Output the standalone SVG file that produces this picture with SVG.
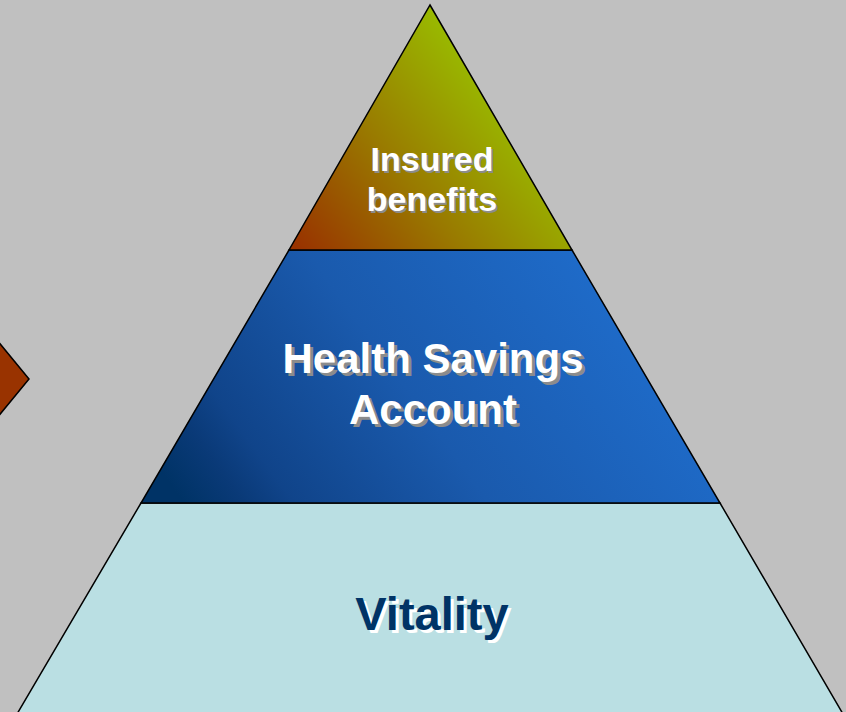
<svg xmlns="http://www.w3.org/2000/svg" width="846" height="712" viewBox="0 0 846 712">
  <defs>
    <linearGradient id="gTop" gradientUnits="userSpaceOnUse" x1="300" y1="250" x2="500" y2="90">
      <stop offset="0" stop-color="#993300"/>
      <stop offset="0.5" stop-color="#997a00"/>
      <stop offset="1" stop-color="#99bb00"/>
    </linearGradient>
    <linearGradient id="gMid" gradientUnits="userSpaceOnUse" x1="600" y1="235" x2="200" y2="525">
      <stop offset="0" stop-color="#1f6dcc"/>
      <stop offset="0.5" stop-color="#1a5aad"/>
      <stop offset="0.82" stop-color="#10448a"/>
      <stop offset="0.9" stop-color="#0a3a78"/>
      <stop offset="1" stop-color="#003366"/>
    </linearGradient>
    <style>
      .shape { stroke: #000; stroke-width: 1.5; stroke-linejoin: miter; }
      .lbl { font-family: "Liberation Sans", Arial, sans-serif; font-weight: bold; text-anchor: middle; }
      .w { fill: #ffffff; }
      .wsh { fill: #8c8c8c; }
      .n { fill: #003366; }
      .nsh { fill: #ffffff; }
    </style>
  </defs>
  <rect x="0" y="0" width="846" height="712" fill="#c0c0c0"/>

  <g id="diamond">
    <polygon class="shape" points="-8,334 29,379 -8,424" fill="#993300"/>
  </g>

  <g id="vitality">
    <polygon class="shape" points="141,503 720,503 843,714 17,714" fill="#badfe3"/>
    <text class="lbl nsh" x="435" y="633" font-size="47">Vitality</text>
    <text class="lbl n" x="432" y="630" font-size="47">Vitality</text>
  </g>

  <g id="hsa">
    <polygon class="shape" points="289,250 572,250 720,503 141,503" fill="url(#gMid)"/>
    <text class="lbl wsh" x="436" y="376" font-size="42">Health Savings</text>
    <text class="lbl w" x="433" y="373" font-size="42">Health Savings</text>
    <text class="lbl wsh" x="436" y="427" font-size="42">Account</text>
    <text class="lbl w" x="433" y="424" font-size="42">Account</text>
  </g>

  <g id="insured">
    <polygon class="shape" points="430,5 572,250 289,250" fill="url(#gTop)"/>
    <text class="lbl wsh" x="434" y="173" font-size="34">Insured</text>
    <text class="lbl w" x="432" y="171" font-size="34">Insured</text>
    <text class="lbl wsh" x="434" y="213" font-size="34">benefits</text>
    <text class="lbl w" x="432" y="211" font-size="34">benefits</text>
  </g>
</svg>
